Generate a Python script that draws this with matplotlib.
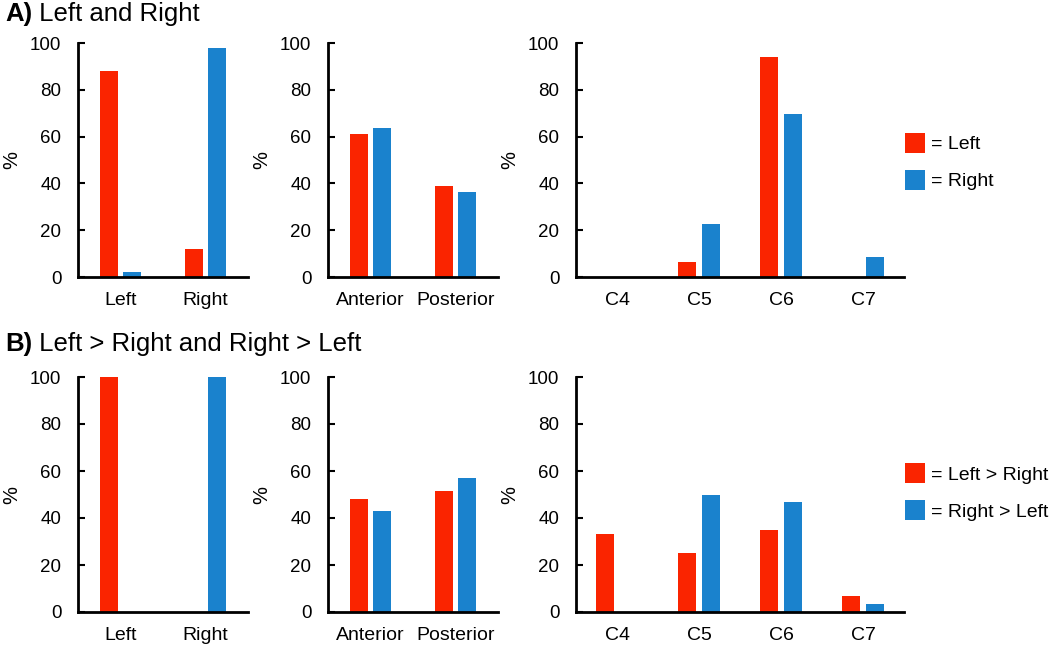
import matplotlib.pyplot as plt
import numpy as np
from matplotlib.patches import Patch

plt.rcParams["font.family"] = ["Liberation Sans", "DejaVu Sans"]

RED = "#fa2400"
BLUE = "#1a82cd"

# Row A: Left and Right
side_cats = ["Left", "Right"]
a_side_left = [88, 12]
a_side_right = [2, 98]

pos_cats = ["Anterior", "Posterior"]
a_pos_left = [61, 39]
a_pos_right = [63.5, 36.5]

level_cats = ["C4", "C5", "C6", "C7"]
a_level_left = [0, 6.3, 94, 0]
a_level_right = [0, 22.5, 69.5, 8.4]

# Row B: Left > Right and Right > Left
b_side_left = [100, 0]
b_side_right = [0, 100]

b_pos_left = [48.2, 51.5]
b_pos_right = [43, 57]

b_level_left = [33.3, 25, 35, 6.7]
b_level_right = [0, 50, 46.7, 3.3]

W, H = 1050, 648


def px_axes(fig, x0, x1, y_top, y_bottom):
    ax = fig.add_axes([x0 / W, 1 - y_bottom / H, (x1 - x0) / W, (y_bottom - y_top) / H])
    return ax, x1 - x0


def draw_bars(ax, width_px, cats, left_vals, right_vals, width, offset):
    x = np.arange(len(cats))
    ax.bar(x - offset, left_vals, width, color=RED)
    ax.bar(x + offset, right_vals, width, color=BLUE)
    ax.set_xticks(x)
    ax.set_xticklabels(cats)
    ax.set_xlim(-0.5, len(cats) - 0.5)
    ax.set_ylim(0, 100)
    ax.set_yticks(range(0, 101, 20))
    ax.tick_params(axis="y", direction="in", length=5, width=1.5, labelsize=13.5, pad=12)
    ax.tick_params(axis="x", length=0, labelsize=14, pad=11)
    for side in ("top", "right"):
        ax.spines[side].set_visible(False)
    ax.spines["left"].set_linewidth(2)
    ax.spines["bottom"].set_linewidth(2)
    ax.set_ylabel("%", fontsize=14.5)
    ax.yaxis.set_label_coords(-57.0 / width_px, 0.5)


fig = plt.figure(figsize=(10.5, 6.48), dpi=100)

rows = [
    (43, 277, a_side_left, a_side_right, a_pos_left, a_pos_right,
     a_level_left, a_level_right, ["= Left", "= Right"], 0.494),
    (377, 612, b_side_left, b_side_right, b_pos_left, b_pos_right,
     b_level_left, b_level_right, ["= Left > Right", "= Right > Left"], 0.51),
]

for (top, bottom, sl, sr, pl, pr, ll, lr, leg_labels, leg_y) in rows:
    ax1, w1 = px_axes(fig, 78, 248, top, bottom)
    draw_bars(ax1, w1, side_cats, sl, sr, 0.21, 0.14)
    ax2, w2 = px_axes(fig, 328, 498, top, bottom)
    draw_bars(ax2, w2, pos_cats, pl, pr, 0.21, 0.14)
    ax3, w3 = px_axes(fig, 576, 904, top, bottom)
    draw_bars(ax3, w3, level_cats, ll, lr, 0.22, 0.145)
    handles = [Patch(facecolor=RED), Patch(facecolor=BLUE)]
    ax3.legend(handles, leg_labels, loc="center left", bbox_to_anchor=(1.003, leg_y),
               frameon=False, fontsize=14, handlelength=1.03, handleheight=1.21,
               handletextpad=0.3, labelspacing=0.85, borderaxespad=0.0, borderpad=0.0)

renderer = fig.canvas.get_renderer()
for label, rest, baseline in [("A)", " Left and Right", 21),
                              ("B)", " Left > Right and Right > Left", 351)]:
    t = fig.text(5 / W, 1 - baseline / H, label, fontsize=18.5, fontweight="bold",
                 va="baseline")
    bb = t.get_window_extent(renderer=renderer)
    fig.text(bb.x1 / W, 1 - baseline / H, rest, fontsize=18.5, va="baseline")

fig.savefig("out.png", dpi=100)
